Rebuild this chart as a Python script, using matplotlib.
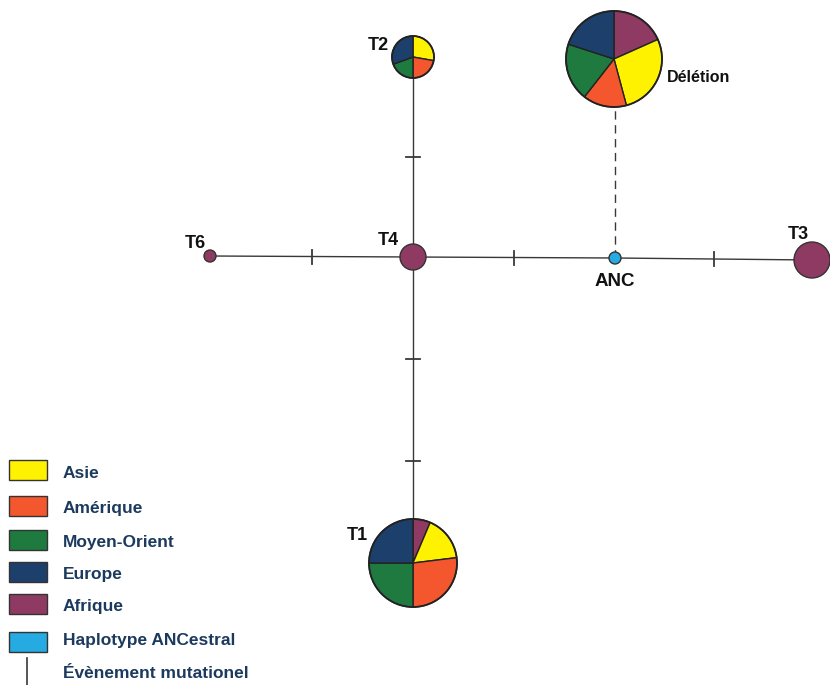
import numpy as np
import matplotlib
matplotlib.use("Agg")
import matplotlib.pyplot as plt
from matplotlib.patches import Wedge, Circle, Rectangle

plt.rcParams['font.family'] = ['Liberation Sans', 'DejaVu Sans']

# regions (pie order, clockwise from 12 o'clock)
regions = ["Afrique", "Asie", "Amérique", "Moyen-Orient", "Europe"]
region_colors = ["#8e3a63", "#fff200", "#f4572d", "#1e7a3f", "#1d3f6c"]
legend_order = ["Asie", "Amérique", "Moyen-Orient", "Europe", "Afrique"]
anc_color = "#25aae1"

# haplotype nodes: name, x, y (pixel space), radius
node_names = ["T1", "T2", "T3", "T4", "T6", "ANC", "Délétion"]
node_x = [413, 413, 812, 413, 210, 615, 614]
node_y = [563, 57, 260, 257, 256, 258, 59]
node_r = [44, 21, 18, 13, 6, 6, 48]

# pie composition (degrees per region, same order as `regions`)
pie_T1 = [23, 60, 97, 90, 90]
pie_T2 = [0, 100, 80, 70, 110]
pie_del = [66, 99, 53, 70, 72]
single_color = {"T3": "#8e3a63", "T4": "#8e3a63", "T6": "#8e3a63", "ANC": anc_color}

# network edges and number of mutations on each
edges = [("T6", "T4"), ("T4", "ANC"), ("ANC", "T3"), ("T2", "T4"), ("T4", "T1")]
n_mut = [1, 1, 1, 1, 2]

fig = plt.figure(figsize=(8.3, 6.85), dpi=100)
ax = fig.add_axes([0, 0, 1, 1])
ax.set_xlim(0, 830)
ax.set_ylim(685, 0)
ax.set_aspect('equal')
ax.axis('off')

pos = {n: (x, y) for n, x, y in zip(node_names, node_x, node_y)}
rad = {n: r for n, r in zip(node_names, node_r)}

line_c = "#383838"
for (a, b), k in zip(edges, n_mut):
    (x0, y0), (x1, y1) = pos[a], pos[b]
    ax.plot([x0, x1], [y0, y1], color=line_c, lw=1.0, zorder=1)
    for i in range(1, k + 1):
        t = i / (k + 1)
        mx, my = x0 + t * (x1 - x0), y0 + t * (y1 - y0)
        if x0 == x1:
            ax.plot([mx - 7, mx + 7], [my, my], color=line_c, lw=1.3, zorder=1)
        else:
            ax.plot([mx, mx], [my - 7, my + 7], color=line_c, lw=1.3, zorder=1)

# dashed link ANC -> Délétion
ax.plot([pos["ANC"][0], pos["ANC"][0]], [pos["ANC"][1], pos["Délétion"][1] + rad["Délétion"]],
        color=line_c, lw=1.0, ls=(0, (6, 4)), zorder=1)


def draw_pie(name, vals):
    cx, cy = pos[name]
    r = rad[name]
    start = 90.0
    for v, c in zip(vals, region_colors):
        if v <= 0:
            continue
        # y axis is inverted, so clockwise on screen = increasing angle here
        ax.add_patch(Wedge((cx, cy), r, -start, -start + v, facecolor=c,
                           edgecolor="#222222", lw=1.0, zorder=3))
        start -= v
    ax.add_patch(Circle((cx, cy), r, fill=False, edgecolor="#222222", lw=1.3, zorder=4))


draw_pie("T1", pie_T1)
draw_pie("T2", pie_T2)
draw_pie("Délétion", pie_del)
for n, c in single_color.items():
    ax.add_patch(Circle(pos[n], rad[n], facecolor=c, edgecolor="#333333", lw=1.0, zorder=3))

# node labels
lab = dict(fontsize=13, fontweight='bold', color="#111111")
ax.text(389, 45, "T2", ha='right', va='center', **lab)
ax.text(368, 536, "T1", ha='right', va='center', **lab)
ax.text(206, 243, "T6", ha='right', va='center', **lab)
ax.text(399, 240, "T4", ha='right', va='center', **lab)
ax.text(798, 234, "T3", ha='center', va='center', **lab)
ax.text(615, 281, "ANC", ha='center', va='center', fontsize=13.5, fontweight='bold', color="#111111")
ax.text(667, 77, "Délétion", ha='left', va='center', fontsize=11.5, fontweight='bold', color="#111111")

# legend
leg_c = "#1c3a5e"
leg_y = [470, 506, 540, 572, 604, 642]
leg_dy = [3, 3, 3, 3, 3, -1]
leg_labels = legend_order + ["Haplotype ANCestral"]
leg_colors = [region_colors[regions.index(n)] for n in legend_order] + [anc_color]
for y, dy, t, c in zip(leg_y, leg_dy, leg_labels, leg_colors):
    ax.add_patch(Rectangle((9, y - 10), 38, 20, facecolor=c, edgecolor="#333333", lw=1.0))
    ax.text(63, y + dy, t, ha='left', va='center', fontsize=12.5, fontweight='bold', color=leg_c)
ax.plot([27, 27], [658, 685], color=line_c, lw=1.2)
ax.text(63, 673, "Évènement mutationel", ha='left', va='center', fontsize=12.5,
        fontweight='bold', color=leg_c)

fig.savefig("out.png", dpi=100)
